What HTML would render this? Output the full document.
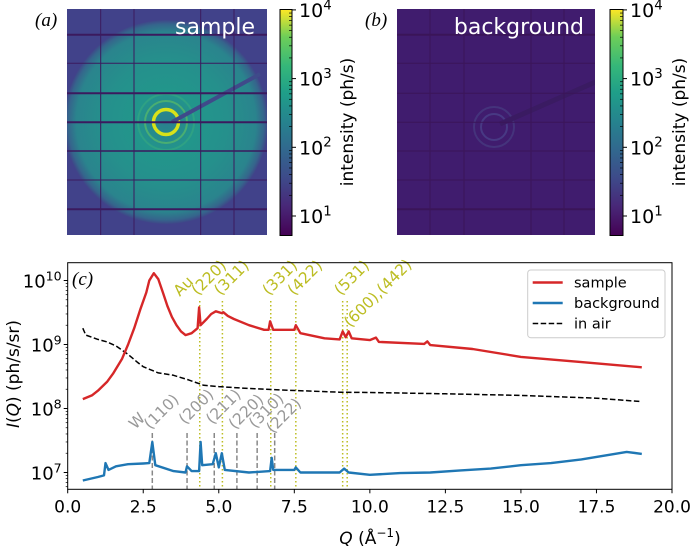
<!DOCTYPE html>
<html><head><meta charset="utf-8"><style>
body{margin:0;background:#fff}
svg{display:block;font-family:"DejaVu Sans","Liberation Sans",sans-serif}
</style></head><body>
<svg id="fig" width="692" height="547" viewBox="0 0 692 547" xmlns="http://www.w3.org/2000/svg">
<defs>
<linearGradient id="vir" x1="0" y1="1" x2="0" y2="0">
<stop offset="0" stop-color="#440154"/><stop offset="0.13" stop-color="#482878"/><stop offset="0.25" stop-color="#3e4989"/><stop offset="0.38" stop-color="#31688e"/><stop offset="0.5" stop-color="#26828e"/><stop offset="0.63" stop-color="#1f9e89"/><stop offset="0.75" stop-color="#35b779"/><stop offset="0.88" stop-color="#6ece58"/><stop offset="1" stop-color="#fde725"/>
</linearGradient>
<radialGradient id="disc" cx="166" cy="122" r="102" gradientUnits="userSpaceOnUse">
<stop offset="0" stop-color="#2a7f8e"/><stop offset="0.3" stop-color="#22968b"/><stop offset="0.6" stop-color="#25908c"/><stop offset="0.88" stop-color="#2a848d"/><stop offset="0.96" stop-color="#35658c"/><stop offset="1" stop-color="#3f4688"/>
</radialGradient>
<clipPath id="ca"><rect x="67" y="9" width="200" height="226"/></clipPath>
<clipPath id="cb"><rect x="397" y="9" width="198" height="226"/></clipPath>
<clipPath id="cc"><rect x="67.7" y="262.7" width="604.3" height="226.6"/></clipPath>
</defs>

<g clip-path="url(#ca)">
<rect x="67" y="9" width="200" height="226" fill="#41428a"/>
<circle cx="166" cy="122" r="102" fill="url(#disc)"/>
<circle cx="166" cy="122" r="28" fill="none" stroke="#3fb47a" stroke-width="2" opacity="0.4"/>
<circle cx="166" cy="122" r="21" fill="none" stroke="#6ece58" stroke-width="2" opacity="0.5"/>
<circle cx="166" cy="122" r="12.5" fill="none" stroke="#d8e219" stroke-width="3.5"/>
<line x1="172" y1="122" x2="260" y2="74" stroke="#3f4a8a" stroke-width="4"/>
<g stroke="#3b1a5e" stroke-width="1">
<line x1="100.7" y1="9" x2="100.7" y2="235"/><line x1="134" y1="9" x2="134" y2="235"/><line x1="200.7" y1="9" x2="200.7" y2="235"/><line x1="234" y1="9" x2="234" y2="235"/>
<line x1="67" y1="34.7" x2="267" y2="34.7" stroke-width="2"/><line x1="67" y1="63.3" x2="267" y2="63.3"/><line x1="67" y1="93.3" x2="267" y2="93.3" stroke-width="2"/><line x1="67" y1="122.3" x2="267" y2="122.3" stroke-width="2"/><line x1="67" y1="151" x2="267" y2="151" stroke-width="1.5"/><line x1="67" y1="180" x2="267" y2="180"/><line x1="67" y1="209.3" x2="267" y2="209.3" stroke-width="2"/>
</g>
</g>
<text x="255" y="34" text-anchor="end" font-size="22" fill="#fff">sample</text>
<text x="35" y="26" font-family="Liberation Serif,serif" font-style="italic" font-size="19">(a)</text>

<g>
<rect x="280" y="9.5" width="12" height="226" fill="url(#vir)" stroke="#000" stroke-width="1"/>
<g id="cbticksA"></g>
</g>
<text transform="translate(353,122) rotate(-90)" text-anchor="middle" font-size="17">intensity (ph/s)</text>

<g clip-path="url(#cb)">
<rect x="397" y="9" width="198" height="226" fill="#401c6e"/>
<circle cx="494" cy="127" r="20" fill="none" stroke="#4a4a8a" stroke-width="2" opacity="0.5"/>
<circle cx="494" cy="127" r="13" fill="none" stroke="#50569a" stroke-width="2" opacity="0.5"/>
<line x1="500" y1="124" x2="600" y2="80" stroke="#3a1b62" stroke-width="5"/>
<g stroke="#3a1558" stroke-width="1">
<line x1="430" y1="9" x2="430" y2="235"/><line x1="464" y1="9" x2="464" y2="235"/><line x1="531" y1="9" x2="531" y2="235"/><line x1="564" y1="9" x2="564" y2="235"/>
<line x1="397" y1="34.7" x2="595" y2="34.7" stroke-width="2"/><line x1="397" y1="63.3" x2="595" y2="63.3"/><line x1="397" y1="93.3" x2="595" y2="93.3"/><line x1="397" y1="122.3" x2="595" y2="122.3"/><line x1="397" y1="151" x2="595" y2="151"/><line x1="397" y1="180" x2="595" y2="180"/><line x1="397" y1="209.3" x2="595" y2="209.3" stroke-width="2"/>
</g>
</g>
<text x="584" y="34" text-anchor="end" font-size="22" fill="#fff">background</text>
<text x="365" y="26" font-family="Liberation Serif,serif" font-style="italic" font-size="19">(b)</text>

<g>
<rect x="610" y="9.5" width="13" height="226" fill="url(#vir)" stroke="#000" stroke-width="1"/>
<g id="cbticksB"></g>
</g>
<text transform="translate(685,122) rotate(-90)" text-anchor="middle" font-size="17">intensity (ph/s)</text>

<g id="chart"></g>
</svg>
<script>
const NS="http://www.w3.org/2000/svg";
const cbExp=[1,2,3,4];
const qSample=[0.5,0.8,1.0,1.3,1.5,1.8,2.0,2.2,2.4,2.6,2.7,2.85,3.0,3.15,3.3,3.45,3.6,3.75,3.9,4.1,4.3,4.35,4.4,4.6,4.75,4.9,5.1,5.15,5.3,5.5,6.0,6.5,6.65,6.7,6.8,7.5,7.55,7.7,8.5,9.0,9.1,9.2,9.3,9.4,10.0,10.2,10.3,11.8,11.9,12.0,13.4,15.0,17.0,19.0];
const vSample=[1.4e8,1.6e8,1.9e8,2.6e8,3.5e8,6e8,1e9,1.8e9,3.5e9,6.5e9,1e10,1.3e10,1.05e10,6.5e9,4e9,2.7e9,2e9,1.6e9,1.4e9,1.5e9,1.8e9,3.8e9,2e9,2.5e9,3e9,3.3e9,3.1e9,3.2e9,2.8e9,2.5e9,2e9,1.7e9,1.7e9,2.3e9,1.7e9,1.7e9,2e9,1.5e9,1.25e9,1.2e9,1.6e9,1.3e9,1.6e9,1.25e9,1.17e9,1.28e9,1.1e9,1.02e9,1.12e9,9.8e8,8.5e8,6.4e8,5.3e8,4.4e8];
const qAir=[0.5,0.6,1.0,1.3,1.6,2.0,2.3,2.5,3.0,3.5,4.0,4.5,5.0,6.0,7.0,9.0,10.0,12.5,15.0,17.5,19.0];
const vAir=[1.8e9,1.4e9,1.2e9,1.1e9,9.5e8,7e8,5.3e8,4.5e8,3.6e8,3.3e8,2.8e8,2.3e8,2.2e8,2.05e8,1.95e8,1.8e8,1.78e8,1.7e8,1.6e8,1.45e8,1.28e8];
const qBkg=[0.5,1.0,1.2,1.25,1.35,1.6,2.0,2.5,2.7,2.8,2.9,3.5,3.9,3.95,4.1,4.35,4.4,4.45,4.8,4.9,5.0,5.1,5.2,6.0,6.7,6.75,6.8,7.5,7.55,7.7,9.0,9.15,9.3,10.0,11.0,12.0,13.0,14.0,15.0,16.0,17.0,17.5,18.5,19.0];
const vBkg=[7.5e6,8.5e6,9e6,1.4e7,1.1e7,1.25e7,1.35e7,1.38e7,1.4e7,3e7,1.3e7,1.05e7,1.0e7,1.25e7,1.05e7,1.05e7,3e7,1.3e7,1.35e7,2.0e7,1.2e7,2.0e7,1.1e7,1.0e7,1.05e7,1.7e7,1.1e7,1.1e7,1.2e7,1.0e7,1.0e7,1.15e7,1.0e7,9.2e6,9.8e6,1.0e7,1.08e7,1.15e7,1.3e7,1.4e7,1.6e7,1.75e7,2.1e7,1.95e7];
const auQ=[4.37,5.12,6.72,7.55,9.1,9.25];
const auLabels=["(220)","(311)","(331)","(422)","(531)","(600),(442)"];
const wQ=[2.8,3.95,4.85,5.6,6.27,6.85];
const wLabels=["(110)","(200)","(211)","(220)","(310)","(222)"];
const xTicks=[0,2.5,5,7.5,10,12.5,15,17.5,20];
const xTickLabels=["0.0","2.5","5.0","7.5","10.0","12.5","15.0","17.5","20.0"];
const yExp=[7,8,9,10];

const X0=67.7,X1=672,Y0=262.7,Y1=489.3;
const xS=q=>X0+q*(X1-X0)/20;
const yS=v=>280.5-(Math.log10(v)-10)*64;
const g=document.getElementById('chart');
function mk(tag,attrs,parent){const e=document.createElementNS(NS,tag);for(const k in attrs)e.setAttribute(k,attrs[k]);(parent||g).appendChild(e);return e;}
function pow(parent,x,y,base,exp,anchor,fs){const t=mk('text',{x:x,y:y,'font-size':fs,'text-anchor':anchor},parent);t.textContent=base;const s=mk('tspan',{dy:-fs*0.4,'font-size':fs*0.7},t);s.textContent=exp;return t;}

[['cbticksA',280,292],['cbticksB',610,623]].forEach(([id,x0,x1])=>{
 const p=document.getElementById(id);
 cbExp.forEach(e=>{const y=216-(e-1)*68.7;
  const l=mk('line',{x1:x1,y1:y,x2:x1+4,y2:y,stroke:'#000'},p);
  
  
  const t=pow(p,x1+7,y+7,'10',String(e),'start',19);
  
  
  for(let m=2;m<10;m++){const ym=y-Math.log10(m)*68.7;if(ym<9)break;mk('line',{x1:x1-3,y1:ym,x2:x1,y2:ym,stroke:'#000','stroke-width':0.7},p);}
 });
});

const clip=mk('g',{'clip-path':'url(#cc)'});
auQ.forEach((q,i)=>{const l=mk('line',{x1:xS(q),x2:xS(q),y1:301,y2:Y1,stroke:'#bcbd22','stroke-width':1.5,'stroke-dasharray':'1.5,2.5'},clip);
 
 });
wQ.forEach((q,i)=>{const l=mk('line',{x1:xS(q),x2:xS(q),y1:433,y2:Y1,stroke:'#888','stroke-width':1.5,'stroke-dasharray':'5,2.5'},clip);
 
 });

function series(qs,vs,color,w,dash,name){
 const d=qs.map((q,i)=>(i?'L':'M')+xS(q).toFixed(1)+','+yS(vs[i]).toFixed(1)).join(' ');
 const p=mk('path',{d:d,fill:'none',stroke:color,'stroke-width':w,'stroke-linejoin':'round'},clip);
 if(dash)p.setAttribute('stroke-dasharray',dash);
 
 
}
series(qAir,vAir,'#000',1.5,'5.5,2.5','air-line');
series(qSample,vSample,'#d62728',2.4,null,'sample-line');
series(qBkg,vBkg,'#1f77b4',2.4,null,'background-line');

const FS=15.5;
const auLab=mk('text',{transform:`translate(${xS(4.37)-20},297) rotate(-45)`,'font-size':FS,fill:'#bcbd22'});
auLab.textContent='Au';


auQ.forEach((q,i)=>{const dx=i==5?3:-2;const y=i==5?328:296;
 const t=mk('text',{transform:`translate(${xS(q)+dx},${y}) rotate(-45)`,'font-size':FS,fill:'#bcbd22'});
 t.textContent=auLabels[i];
 
 });
const wLab=mk('text',{transform:`translate(${xS(2.8)-17},430) rotate(-45)`,'font-size':FS,fill:'#999'});
wLab.textContent='W';


const wY=[430,425,425,430,429,434];
wQ.forEach((q,i)=>{
 const t=mk('text',{transform:`translate(${xS(q)-2},${wY[i]}) rotate(-45)`,'font-size':FS,fill:'#999'});
 t.textContent=wLabels[i];
 
 });

const fr=mk('rect',{x:X0,y:Y0,width:X1-X0,height:Y1-Y0,fill:'none',stroke:'#000','stroke-width':1});



xTicks.forEach((v,i)=>{const x=xS(v);mk('line',{x1:x,x2:x,y1:Y1,y2:Y1+4,stroke:'#000'});
 const t=mk('text',{x:x,y:Y1+23,'font-size':17,'text-anchor':'middle'});
 t.textContent=xTickLabels[i];
 
 });
yExp.forEach(e=>{const y=yS(Math.pow(10,e));mk('line',{x1:X0-4,x2:X0,y1:y,y2:y,stroke:'#000'});
 const t=pow(g,X0-6,y+7,'10',String(e),'end',18);
 
 });
for(let e=6;e<=10;e++)for(let m=2;m<10;m++){const y=yS(m*Math.pow(10,e));if(y<Y0||y>Y1)continue;mk('line',{x1:X0-2,x2:X0,y1:y,y2:y,stroke:'#000','stroke-width':0.7});}

const xt=mk('text',{x:370,y:544,'font-size':17,'text-anchor':'middle'});
xt.innerHTML='<tspan font-style="italic">Q</tspan> (Å<tspan dy="-7" font-size="12">−1</tspan><tspan dy="7">)</tspan>';


const yt=mk('text',{transform:'translate(19,374) rotate(-90)','font-size':17,'text-anchor':'middle'});
yt.innerHTML='<tspan font-style="italic">I</tspan>(<tspan font-style="italic">Q</tspan>) (ph/s/sr)';


const pc=mk('text',{x:72,y:285,'font-size':19,'font-family':'Liberation Serif,serif','font-style':'italic'});
pc.textContent='(c)';



const lg=mk('g',{});


mk('rect',{x:527.7,y:270,width:137.3,height:67.7,rx:3,fill:'#fff',stroke:'#ccc'},lg);
[['sample','#d62728',null,282.5],['background','#1f77b4',null,303],['in air','#000','5.5,2.5',323.5]].forEach(([n,c,d,y])=>{
 const l=mk('line',{x1:532.7,x2:562.7,y1:y,y2:y,stroke:c,'stroke-width':n=='in air'?1.5:2.4},lg);
 if(d)l.setAttribute('stroke-dasharray',d);
 const t=mk('text',{x:574,y:y+5,'font-size':14.5},lg);
 t.textContent=n;
 
 
});
</script>
</body></html>
